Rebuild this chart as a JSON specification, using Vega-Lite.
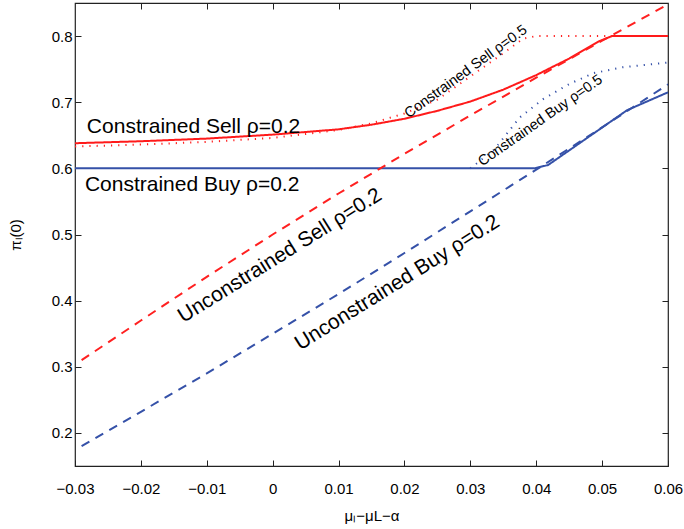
{
  "$schema": "https://vega.github.io/schema/vega-lite/v6.json",
  "autosize": "none",
  "width": 593,
  "height": 463,
  "padding": {"left": 75, "top": 3, "right": 16, "bottom": 63},
  "background": "white",
  "config": {
    "view": {"stroke": "#222", "strokeWidth": 1.2},
    "font": "Liberation Sans",
    "axis": {"grid": false, "domain": false, "tickColor": "#222", "tickSize": -6, "labelFlush": false, "labelColor": "#000", "labelFontSize": 15, "labelFontWeight": "normal", "labelFont": "Liberation Sans", "titleFont": "Liberation Sans", "titleFontWeight": "normal", "titleColor": "#000", "titleFontSize": 15}
  },
  "datasets": {
    "lines": [
      {"series": "CS02", "x": -0.03, "y": 0.638},
      {"series": "CS02", "x": -0.02, "y": 0.641},
      {"series": "CS02", "x": -0.01, "y": 0.645},
      {"series": "CS02", "x": 0.0, "y": 0.651},
      {"series": "CS02", "x": 0.01, "y": 0.659},
      {"series": "CS02", "x": 0.015, "y": 0.666},
      {"series": "CS02", "x": 0.02, "y": 0.675},
      {"series": "CS02", "x": 0.025, "y": 0.687},
      {"series": "CS02", "x": 0.03, "y": 0.701},
      {"series": "CS02", "x": 0.035, "y": 0.719},
      {"series": "CS02", "x": 0.04, "y": 0.741},
      {"series": "CS02", "x": 0.045, "y": 0.766},
      {"series": "CS02", "x": 0.0495, "y": 0.792},
      {"series": "CS02", "x": 0.0515, "y": 0.8},
      {"series": "CS02", "x": 0.06, "y": 0.8},
      {"series": "CB02", "x": -0.03, "y": 0.6},
      {"series": "CB02", "x": 0.0397, "y": 0.6},
      {"series": "CB02", "x": 0.0418, "y": 0.605},
      {"series": "CB02", "x": 0.0538, "y": 0.688},
      {"series": "CB02", "x": 0.06, "y": 0.715},
      {"series": "US02", "x": -0.029, "y": 0.31},
      {"series": "US02", "x": -0.02, "y": 0.37},
      {"series": "US02", "x": -0.01, "y": 0.436},
      {"series": "US02", "x": 0.0, "y": 0.5},
      {"series": "US02", "x": 0.01, "y": 0.562},
      {"series": "US02", "x": 0.02, "y": 0.622},
      {"series": "US02", "x": 0.03, "y": 0.68},
      {"series": "US02", "x": 0.04, "y": 0.737},
      {"series": "US02", "x": 0.05, "y": 0.793},
      {"series": "US02", "x": 0.06, "y": 0.848},
      {"series": "UB02", "x": -0.029, "y": 0.18},
      {"series": "UB02", "x": -0.02, "y": 0.232},
      {"series": "UB02", "x": -0.01, "y": 0.29},
      {"series": "UB02", "x": 0.0, "y": 0.35},
      {"series": "UB02", "x": 0.01, "y": 0.41},
      {"series": "UB02", "x": 0.02, "y": 0.472},
      {"series": "UB02", "x": 0.03, "y": 0.535},
      {"series": "UB02", "x": 0.04, "y": 0.598},
      {"series": "UB02", "x": 0.05, "y": 0.662},
      {"series": "UB02", "x": 0.06, "y": 0.727},
      {"series": "CS05", "x": -0.03, "y": 0.633},
      {"series": "CS05", "x": -0.02, "y": 0.636},
      {"series": "CS05", "x": -0.01, "y": 0.64},
      {"series": "CS05", "x": 0.0, "y": 0.646},
      {"series": "CS05", "x": 0.01, "y": 0.658},
      {"series": "CS05", "x": 0.015, "y": 0.668},
      {"series": "CS05", "x": 0.02, "y": 0.683},
      {"series": "CS05", "x": 0.025, "y": 0.704},
      {"series": "CS05", "x": 0.03, "y": 0.739},
      {"series": "CS05", "x": 0.035, "y": 0.774},
      {"series": "CS05", "x": 0.038, "y": 0.796},
      {"series": "CS05", "x": 0.04, "y": 0.8},
      {"series": "CS05", "x": 0.052, "y": 0.8},
      {"series": "CB05", "x": 0.03, "y": 0.6},
      {"series": "CB05", "x": 0.0336, "y": 0.628},
      {"series": "CB05", "x": 0.0375, "y": 0.677},
      {"series": "CB05", "x": 0.0411, "y": 0.705},
      {"series": "CB05", "x": 0.0451, "y": 0.728},
      {"series": "CB05", "x": 0.0487, "y": 0.744},
      {"series": "CB05", "x": 0.0532, "y": 0.753},
      {"series": "CB05", "x": 0.06, "y": 0.76}
    ],
    "labels": [
      {"id": "CS02", "text": "Constrained Sell ρ=0.2", "x": -0.0282, "y": 0.653},
      {"id": "CB02", "text": "Constrained Buy ρ=0.2", "x": -0.0285, "y": 0.566},
      {"id": "US02", "text": "Unconstrained Sell ρ=0.2", "x": 0.0016, "y": 0.46},
      {"id": "UB02", "text": "Unconstrained Buy ρ=0.2", "x": 0.0194, "y": 0.419},
      {"id": "CS05", "text": "Constrained Sell ρ=0.5", "x": 0.0297, "y": 0.741},
      {"id": "CB05", "text": "Constrained Buy ρ=0.5", "x": 0.041, "y": 0.667}
    ]
  },
  "layer": [
    {
      "data": {"name": "lines"},
      "mark": {"type": "line", "clip": true},
      "encoding": {
        "x": {"field": "x", "type": "quantitative", "scale": {"domain": [-0.03, 0.06], "nice": false, "zero": false}, "axis": {"values": [-0.03, -0.02, -0.01, 0, 0.01, 0.02, 0.03, 0.04, 0.05, 0.06], "format": "~g", "labelPadding": 21, "title": "μₗ−μL−α", "titlePadding": 12}},
        "y": {"field": "y", "type": "quantitative", "scale": {"domain": [0.15, 0.85], "nice": false, "zero": false}, "axis": {"values": [0.2, 0.3, 0.4, 0.5, 0.6, 0.7, 0.8], "format": ".1f", "labelPadding": 9, "title": "πₗ(0)", "titlePadding": 28}},
        "detail": {"field": "series"},
        "color": {"field": "series", "type": "nominal", "legend": null, "scale": {"domain": ["CS02", "CB02", "US02", "UB02", "CS05", "CB05"], "range": ["#ff1a1a", "#3551a8", "#ff2020", "#3551a8", "#ff2020", "#3551a8"]}},
        "strokeDash": {"field": "series", "type": "nominal", "legend": null, "scale": {"domain": ["CS02", "CB02", "US02", "UB02", "CS05", "CB05"], "range": [[1, 0], [1, 0], [9, 7], [9, 7], [1.2, 6], [1.2, 6]]}},
        "strokeWidth": {"field": "series", "type": "nominal", "legend": null, "scale": {"domain": ["CS02", "CB02", "US02", "UB02", "CS05", "CB05"], "range": [2, 2, 1, 1, 1.3, 1.3]}}
      }
    },
    {
      "data": {"name": "lines"},
      "mark": {"type": "point", "opacity": 0},
      "encoding": {
        "x": {"field": "x", "type": "quantitative", "axis": {"orient": "top", "values": [-0.02, -0.01, 0, 0.01, 0.02, 0.03, 0.04, 0.05], "labels": false, "title": null}},
        "y": {"field": "y", "type": "quantitative", "axis": {"orient": "right", "values": [0.2, 0.3, 0.4, 0.5, 0.6, 0.7, 0.8], "labels": false, "title": null}}
      }
    },
    {
      "data": {"name": "labels"},
      "transform": [{"filter": "datum.id === 'CS02'"}],
      "mark": {"type": "text", "align": "left", "baseline": "alphabetic", "fontSize": 21, "font": "Liberation Sans"},
      "encoding": {"x": {"field": "x", "type": "quantitative", "axis": null}, "y": {"field": "y", "type": "quantitative", "axis": null}, "text": {"field": "text"}}
    },
    {
      "data": {"name": "labels"},
      "transform": [{"filter": "datum.id === 'CB02'"}],
      "mark": {"type": "text", "align": "left", "baseline": "alphabetic", "fontSize": 21, "font": "Liberation Sans"},
      "encoding": {"x": {"field": "x", "type": "quantitative", "axis": null}, "y": {"field": "y", "type": "quantitative", "axis": null}, "text": {"field": "text"}}
    },
    {
      "data": {"name": "labels"},
      "transform": [{"filter": "datum.id === 'US02'"}],
      "mark": {"type": "text", "align": "center", "baseline": "alphabetic", "fontSize": 21, "angle": -32, "font": "Liberation Sans"},
      "encoding": {"x": {"field": "x", "type": "quantitative", "axis": null}, "y": {"field": "y", "type": "quantitative", "axis": null}, "text": {"field": "text"}}
    },
    {
      "data": {"name": "labels"},
      "transform": [{"filter": "datum.id === 'UB02'"}],
      "mark": {"type": "text", "align": "center", "baseline": "alphabetic", "fontSize": 21, "angle": -32, "font": "Liberation Sans"},
      "encoding": {"x": {"field": "x", "type": "quantitative", "axis": null}, "y": {"field": "y", "type": "quantitative", "axis": null}, "text": {"field": "text"}}
    },
    {
      "data": {"name": "labels"},
      "transform": [{"filter": "datum.id === 'CS05'"}],
      "mark": {"type": "text", "align": "center", "baseline": "alphabetic", "fontSize": 14.5, "angle": -36, "font": "Liberation Sans"},
      "encoding": {"x": {"field": "x", "type": "quantitative", "axis": null}, "y": {"field": "y", "type": "quantitative", "axis": null}, "text": {"field": "text"}}
    },
    {
      "data": {"name": "labels"},
      "transform": [{"filter": "datum.id === 'CB05'"}],
      "mark": {"type": "text", "align": "center", "baseline": "alphabetic", "fontSize": 14.5, "angle": -35, "font": "Liberation Sans"},
      "encoding": {"x": {"field": "x", "type": "quantitative", "axis": null}, "y": {"field": "y", "type": "quantitative", "axis": null}, "text": {"field": "text"}}
    }
  ],
  "resolve": {"axis": {"x": "independent", "y": "independent"}}
}
